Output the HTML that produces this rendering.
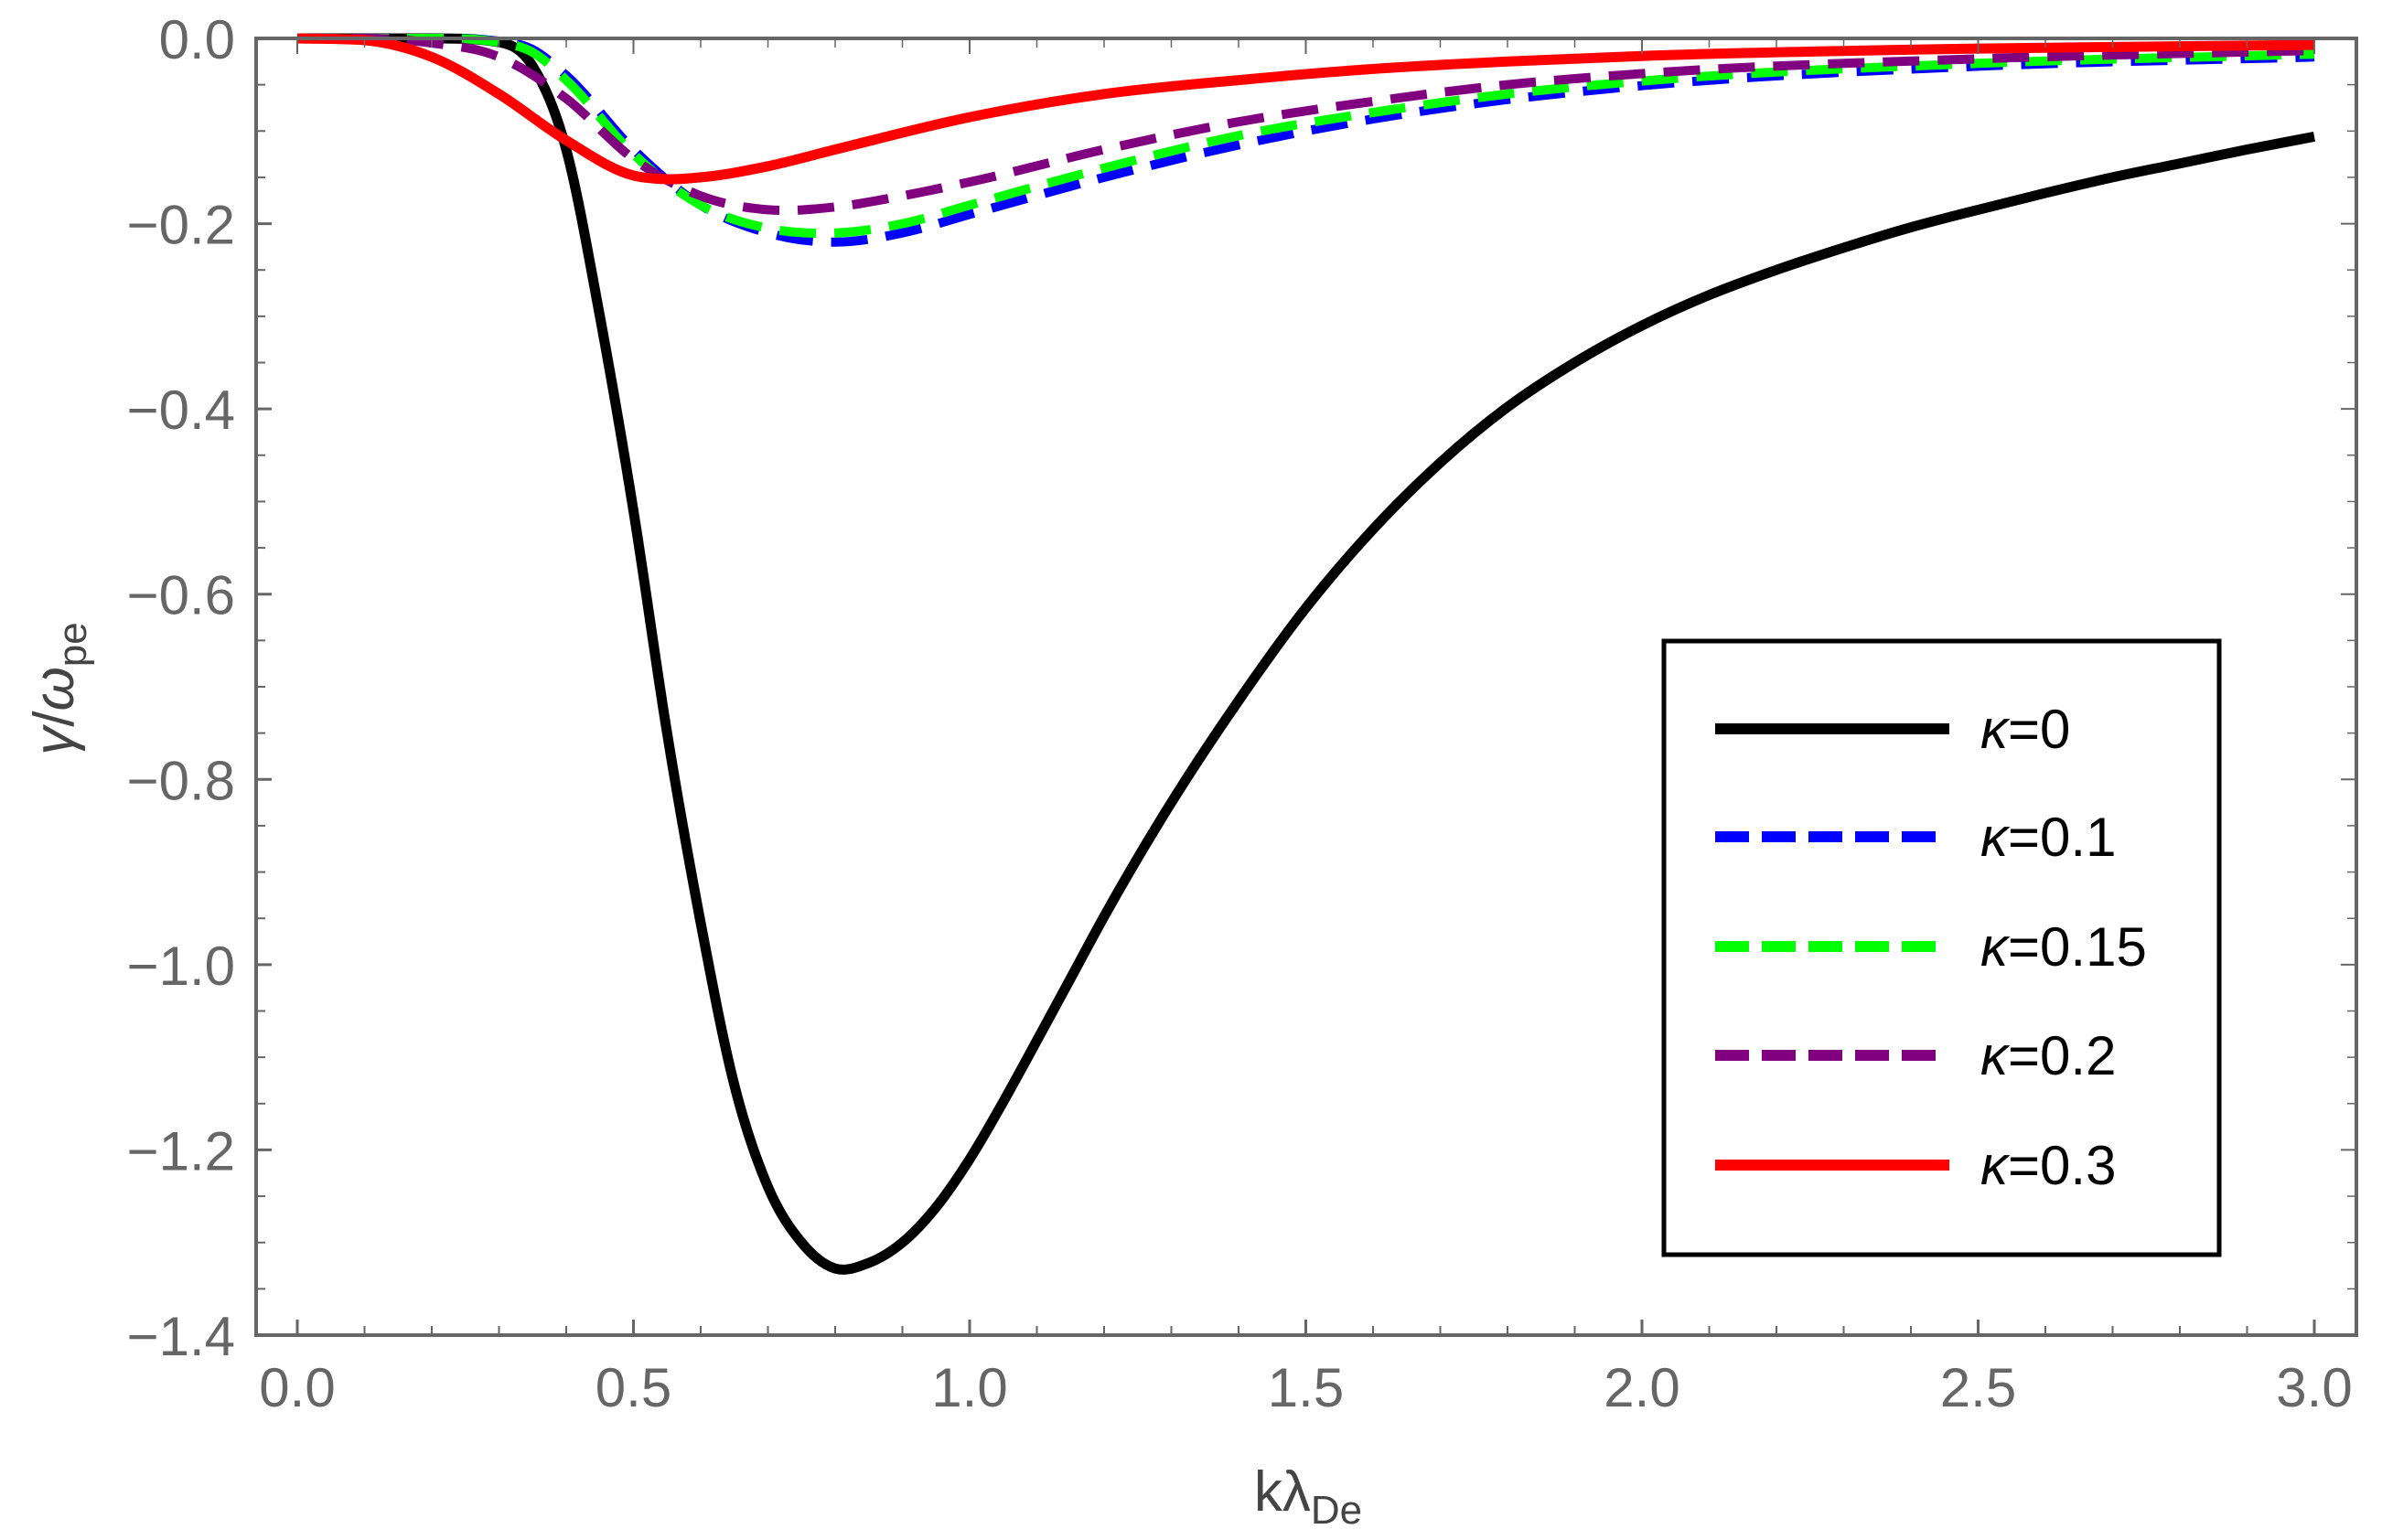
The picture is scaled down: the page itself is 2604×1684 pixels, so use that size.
<!DOCTYPE html>
<html><head><meta charset="utf-8"><style>
html,body{margin:0;padding:0;background:#fff;}
svg{display:block;}
text{font-family:"Liberation Sans",sans-serif;}
</style></head><body>
<svg id="chart" width="2604" height="1684" viewBox="0 0 2604 1684" xmlns="http://www.w3.org/2000/svg">
<g id="plot"></g>
<g id="axes"></g>
<text x="1430" y="1652" font-size="62" text-anchor="middle" fill="#444">kλ<tspan font-size="44" dy="14">De</tspan></text>
<text transform="translate(80,753) rotate(-90)" font-size="62" text-anchor="middle" fill="#444"><tspan font-style="italic">γ</tspan>/<tspan font-style="italic">ω</tspan><tspan font-size="44" dy="14">pe</tspan></text>
<g id="legend"></g>
</svg>
<script>
const xTicks=[0,0.5,1.0,1.5,2.0,2.5,3.0];
const xTickLabels=["0.0","0.5","1.0","1.5","2.0","2.5","3.0"];
const yTicks=[0,-0.2,-0.4,-0.6,-0.8,-1.0,-1.2,-1.4];
const yTickLabels=["0.0","\u22120.2","\u22120.4","\u22120.6","\u22120.8","\u22121.0","\u22121.2","\u22121.4"];
const seriesNames=["κ=0","κ=0.1","κ=0.15","κ=0.2","κ=0.3"];
const xK0=[0,0.1,0.2,0.3,0.35,0.4,0.45,0.5,0.55,0.6,0.65,0.7,0.75,0.8,0.85,0.9,0.95,1.0,1.05,1.1,1.15,1.2,1.3,1.4,1.5,1.6,1.7,1.8,1.9,2.0,2.1,2.2,2.3,2.4,2.5,2.6,2.7,2.8,2.9,3.0];
const yK0=[0,0,0,-0.004,-0.03,-0.12,-0.30,-0.51,-0.75,-0.955,-1.13,-1.24,-1.30,-1.328,-1.322,-1.30,-1.262,-1.21,-1.148,-1.082,-1.015,-0.948,-0.825,-0.715,-0.615,-0.53,-0.458,-0.398,-0.35,-0.31,-0.277,-0.25,-0.226,-0.204,-0.185,-0.167,-0.15,-0.135,-0.12,-0.106];
const xK1=[0,0.1,0.2,0.3,0.35,0.4,0.5,0.6,0.7,0.8,0.9,1.0,1.2,1.4,1.6,1.8,2.0,2.5,3.0];
const yK1=[0,0,0,-0.003,-0.012,-0.04,-0.12,-0.18,-0.21,-0.22,-0.21,-0.19,-0.15,-0.115,-0.087,-0.066,-0.051,-0.03,-0.02];
const xK15=[0,0.1,0.2,0.3,0.35,0.4,0.5,0.6,0.7,0.8,0.9,1.0,1.2,1.4,1.6,1.8,2.0,2.5,3.0];
const yK15=[0,0,0,-0.004,-0.015,-0.045,-0.125,-0.18,-0.205,-0.21,-0.2,-0.18,-0.14,-0.105,-0.08,-0.06,-0.046,-0.027,-0.017];
const xK2=[0,0.1,0.2,0.3,0.4,0.5,0.6,0.7,0.8,0.9,1.0,1.2,1.4,1.6,1.8,2.0,2.5,3.0];
const yK2=[0,0,-0.005,-0.02,-0.065,-0.13,-0.17,-0.185,-0.182,-0.17,-0.155,-0.12,-0.09,-0.068,-0.05,-0.038,-0.022,-0.013];
const xK3=[0,0.1,0.2,0.3,0.4,0.5,0.55,0.6,0.7,0.8,1.0,1.2,1.4,1.6,1.8,2.0,2.5,3.0];
const yK3=[0,-0.002,-0.02,-0.06,-0.11,-0.148,-0.152,-0.15,-0.138,-0.12,-0.085,-0.06,-0.045,-0.033,-0.025,-0.019,-0.011,-0.007];

const NS="http://www.w3.org/2000/svg";
const L=280,R=2576,T=42,B=1460;
const X0=325,X3=2530;
function sx(v){return X0+(X3-X0)*v/3;}
function sy(v){return T+(B-T)*(-v)/1.4;}
function mk(tag,attrs,parent){const e=document.createElementNS(NS,tag);for(const k in attrs)e.setAttribute(k,attrs[k]);parent.appendChild(e);return e;}
const axes=document.getElementById('axes'),plot=document.getElementById('plot'),legend=document.getElementById('legend');
const grey="#666";
const fr=mk('rect',{x:L,y:T,width:R-L,height:B-T,fill:'none',stroke:grey,'stroke-width':4},axes);

for(let i=0;i<=30;i++){const v=i*0.1;const major=(i%5===0);const x=sx(v);
 const len=major?17:10;
 const t1=mk('line',{x1:x,y1:B,x2:x,y2:B-len,stroke:grey,'stroke-width':major?3:2},axes);
 
 const t2=mk('line',{x1:x,y1:T,x2:x,y2:T+len,stroke:grey,'stroke-width':major?2:1.5},axes);
 }
xTicks.forEach((v,i)=>{const t=mk('text',{x:sx(v),y:B+78,'font-size':60,'text-anchor':'middle',fill:grey},axes);t.textContent=xTickLabels[i];
 });
for(let i=0;i<=28;i++){const v=-i*0.05;const major=(i%4===0);const y=sy(v);const len=major?17:10;
 const t1=mk('line',{x1:L,y1:y,x2:L+len,y2:y,stroke:grey,'stroke-width':major?3:2},axes);
 
 const t2=mk('line',{x1:R,y1:y,x2:R-len,y2:y,stroke:grey,'stroke-width':major?2:1.5},axes);
 }
yTicks.forEach((v,i)=>{const t=mk('text',{x:257,y:sy(v)+22,'font-size':60,'text-anchor':'end',fill:grey},axes);t.textContent=yTickLabels[i];
 });
function pathFor(xs,ys){const n=xs.length;const m=[];const dd=[];
 for(let i=0;i<n-1;i++)dd.push((ys[i+1]-ys[i])/(xs[i+1]-xs[i]));
 for(let i=0;i<n;i++){
  if(i===0)m.push(dd[0]);
  else if(i===n-1)m.push(dd[n-2]);
  else{const d0=dd[i-1],d1=dd[i];
   if(d0===0||d1===0){m.push(0);continue;}
   const h0=xs[i]-xs[i-1],h1=xs[i+1]-xs[i];
   let t=(d0*h1+d1*h0)/(h0+h1);
   if(d0*d1>0){const lim=3*Math.min(Math.abs(d0),Math.abs(d1));
    if(Math.abs(t)>lim)t=Math.sign(t)*lim;}
   m.push(t);}}
 let d='M'+sx(xs[0]).toFixed(1)+','+sy(ys[0]).toFixed(1);
 for(let i=0;i<n-1;i++){const h=xs[i+1]-xs[i];
  const c1x=xs[i]+h/3,c1y=ys[i]+m[i]*h/3,c2x=xs[i+1]-h/3,c2y=ys[i+1]-m[i+1]*h/3;
  d+=' C'+sx(c1x).toFixed(1)+','+sy(c1y).toFixed(1)+' '+sx(c2x).toFixed(1)+','+sy(c2y).toFixed(1)+' '+sx(xs[i+1]).toFixed(1)+','+sy(ys[i+1]).toFixed(1);}
 return d;}
const styles=[{c:'#000',dash:null},{c:'#0000ff',dash:'40 20'},{c:'#00ff00',dash:'40 20'},{c:'#800080',dash:'40 20'},{c:'#ff0000',dash:null}];
const data=[[xK0,yK0],[xK1,yK1],[xK15,yK15],[xK2,yK2],[xK3,yK3]];
const names=['curve-kappa-0','curve-kappa-0-1','curve-kappa-0-15','curve-kappa-0-2','curve-kappa-0-3'];
data.forEach((s,i)=>{const a={d:pathFor(s[0],s[1]),fill:'none',stroke:styles[i].c,'stroke-width':styles[i].dash?10:11,'stroke-linejoin':'round'};
 if(styles[i].dash)a['stroke-dasharray']=styles[i].dash;
 const e=mk('path',a,plot);
 
 });
const lb=mk('rect',{x:1819,y:701,width:607,height:671,fill:'#fff',stroke:'#000','stroke-width':5},legend);

const ly=[797,915,1035,1154,1274];
seriesNames.forEach((n,i)=>{
 const a={x1:1875,y1:ly[i],x2:i===0||i===4?2131:2120,y2:ly[i],stroke:styles[i].c,'stroke-width':12};
 if(styles[i].dash)a['stroke-dasharray']='37 14';
 const ln=mk('line',a,legend);
 
 const t=mk('text',{x:2165,y:ly[i]+21,'font-size':60,fill:'#000'},legend);
 t.innerHTML='<tspan font-style="italic">κ</tspan>'+n.slice(1);
 });
</script>
</body></html>
